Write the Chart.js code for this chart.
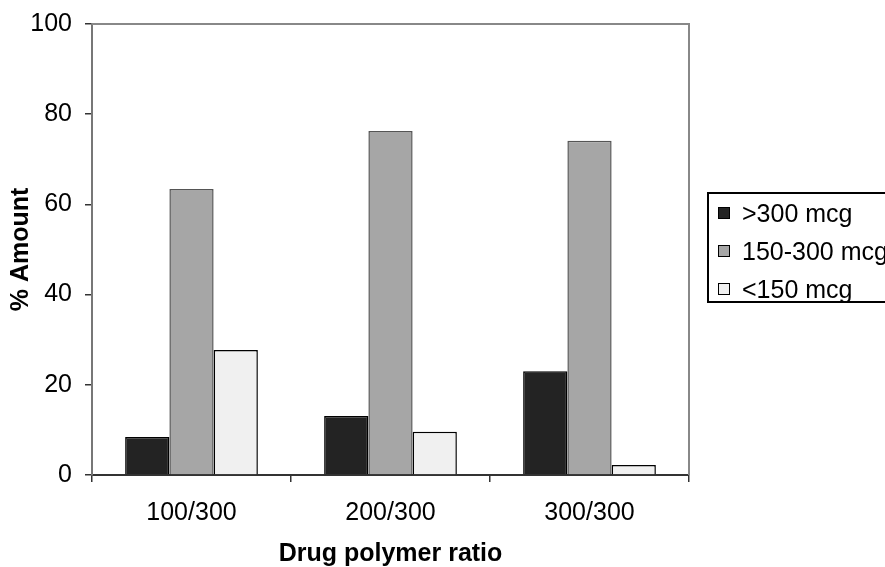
<!DOCTYPE html>
<html>
<head>
<meta charset="utf-8">
<script src="https://cdn.jsdelivr.net/npm/chart.js@4/dist/chart.umd.min.js"></script>
<style>
  body { margin: 0; overflow: hidden; background: #fff; }
  #wrap { position: relative; width: 885px; height: 567px; overflow: hidden; }
  #legend {
    position: absolute; left: 707px; top: 192px; width: 200px; height: 107px;
    border: 2px solid #000; box-sizing: content-box;
    font-family: 'Liberation Sans', Arial, sans-serif; font-size: 25px; color: #000;
  }
  #legend div { line-height: 38px; height: 38px; white-space: nowrap; }
  #legend span.sw {
    display: inline-block; width: 10px; height: 10px; border: 1px solid #000;
    margin-left: 9px; margin-right: 12px; vertical-align: middle; position: relative; top: -2px;
  }
</style>
</head>
<body>
<div id="wrap">
  <canvas id="chart" width="885" height="567"></canvas>
  <div id="legend"></div>
</div>
<script>
// data
const categories = ['100/300', '200/300', '300/300']
const over300 = [8.4, 13.1, 23.0]
const mid150to300 = [63.4, 76.3, 74.1]
const under150 = [27.7, 9.6, 2.2]
const seriesNames = ['>300 mcg', '150-300 mcg', '<150 mcg']
const yTicks = [0, 20, 40, 60, 80, 100]

const fills = ['#232323', '#a6a6a6', '#f0f0f0']
const edges = ['#000', '#555', '#000']
const FONT = "'Liberation Sans', Arial, sans-serif"

let datasets = [over300, mid150to300, under150].map(function (vals, i) {
    return {
        label: seriesNames[i],
        data: vals,
        backgroundColor: fills[i],
        borderColor: edges[i],
        borderWidth: 1.5,
        borderSkipped: 'bottom',
        categoryPercentage: 0.667,
        barPercentage: 1.0
    }
})

// grey frame on top and right of plot area
const frame = {
    id: 'frame',
    afterDraw: function (chart) {
        let a = chart.chartArea, ctx = chart.ctx
        ctx.save()
        ctx.strokeStyle = '#888'
        ctx.lineWidth = 2
        ctx.beginPath()
        ctx.moveTo(a.left, a.top)
        ctx.lineTo(a.right, a.top)
        ctx.lineTo(a.right, a.bottom)
        ctx.stroke()
        ctx.restore()
    }
}

new Chart(document.getElementById('chart'), {
    type: 'bar',
    data: { labels: categories, datasets: datasets },
    plugins: [frame],
    options: {
        responsive: false,
        animation: false,
        layout: { padding: { left: 0, right: 196, top: 24, bottom: 0 } },
        plugins: { legend: { display: false }, tooltip: { enabled: false } },
        scales: {
            x: {
                offset: true,
                afterFit: function (s) { s.height = 92; s.paddingLeft = 0; s.paddingRight = 0 },
                grid: { drawOnChartArea: false, tickLength: 7, color: '#333', lineWidth: 1.5 },
                border: { color: '#333', width: 2 },
                ticks: { padding: 16, color: '#000', font: { family: FONT, size: 25 } },
                title: {
                    display: true, text: 'Drug polymer ratio', color: '#000',
                    padding: 0, font: { family: FONT, size: 25, weight: 'bold', lineHeight: 1 }
                }
            },
            y: {
                min: 0, max: 100,
                afterFit: function (s) { s.width = 92; s.paddingTop = 0; s.paddingBottom = 0 },
                afterBuildTicks: function (s) { s.ticks = yTicks.map(function (v) { return { value: v } }) },
                grid: { drawOnChartArea: false, tickLength: 7, color: '#333', lineWidth: 1.5 },
                border: { color: '#777', width: 2 },
                ticks: { padding: 13, color: '#000', font: { family: FONT, size: 25 } },
                title: {
                    display: true, text: '% Amount', color: '#000',
                    padding: 9, font: { family: FONT, size: 25, weight: 'bold', lineHeight: 1 }
                }
            }
        }
    }
})

// legend built from the same series
let legend = document.getElementById('legend')
seriesNames.forEach(function (name, i) {
    let row = document.createElement('div')
    let sw = document.createElement('span')
    sw.className = 'sw'
    sw.style.background = fills[i]
    row.appendChild(sw)
    row.appendChild(document.createTextNode(name))
    legend.appendChild(row)
})
</script>
</body>
</html>
